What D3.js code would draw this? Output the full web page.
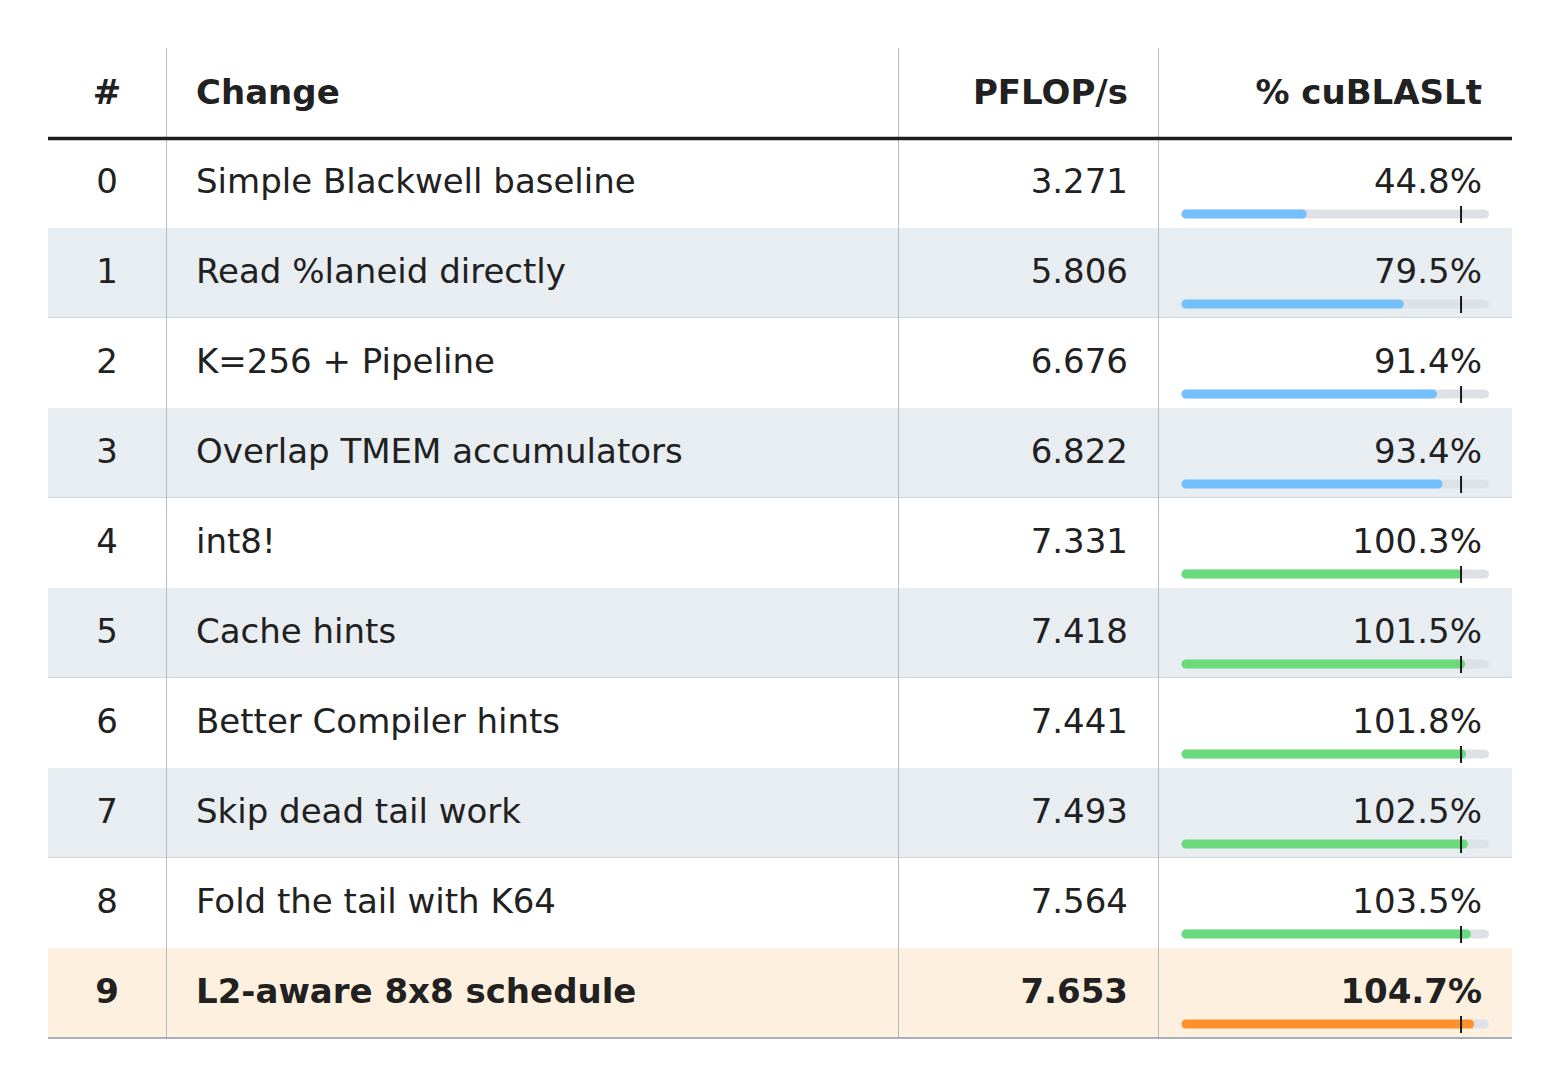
<!DOCTYPE html>
<html>
<head>
<meta charset="utf-8">
<script src="https://cdn.jsdelivr.net/npm/d3@7"></script>
<style>
  body { margin: 0; background: #fff; }
  svg text { font-family: "DejaVu Sans", sans-serif; fill: #212121; }
</style>
</head>
<body>
<svg id="main" width="1560" height="1086"></svg>
<script>
// table data
var steps = [0, 1, 2, 3, 4, 5, 6, 7, 8, 9];
var changes = [
  "Simple Blackwell baseline",
  "Read %laneid directly",
  "K=256 + Pipeline",
  "Overlap TMEM accumulators",
  "int8!",
  "Cache hints",
  "Better Compiler hints",
  "Skip dead tail work",
  "Fold the tail with K64",
  "L2-aware 8x8 schedule"
];
var pflops = [3.271, 5.806, 6.676, 6.822, 7.331, 7.418, 7.441, 7.493, 7.564, 7.653];
var pctCublas = [44.8, 79.5, 91.4, 93.4, 100.3, 101.5, 101.8, 102.5, 103.5, 104.7];
var headers = ["#", "Change", "PFLOP/s", "% cuBLASLt"];

var svg = d3.select("#main");

// layout (note: "top" is taken by window.top, so tableTop)
var tableLeft = 48, tableRight = 1512, tableTop = 48, headH = 90, rowH = 90;
var colEdges = [48, 166, 898, 1158, 1512];
var pad = 30;
var fontSize = "34px";
var best = steps.length - 1;

var y = d3.scaleBand()
  .domain(steps)
  .range([tableTop + headH, tableTop + headH + rowH * steps.length])
  .paddingInner(0).paddingOuter(0);

// bar scale, 100% = cuBLASLt marker
var x = d3.scaleLinear().domain([0, 110]).range([1181.5, 1489]);

function barColor(i) {
  if (i === best) return "#ff922b";
  return pctCublas[i] >= 100 ? "#69db7c" : "#74c0fc";
}

var rows = svg.append("g").attr("class", "rows")
  .selectAll("g")
  .data(steps)
  .enter()
  .append("g")
  .attr("transform", function(d) { return "translate(0," + y(d) + ")"; });

// row backgrounds
rows.append("rect")
  .attr("x", tableLeft)
  .attr("width", tableRight - tableLeft)
  .attr("height", y.bandwidth())
  .attr("fill", function(d, i) {
    if (i === best) return "#fef0df";
    return i % 2 === 1 ? "#e8edf1" : "#ffffff";
  });

// thin separators under shaded rows
rows.filter(function(d, i) { return i % 2 === 1 && i !== best; })
  .append("line")
  .attr("x1", tableLeft).attr("x2", tableRight)
  .attr("y1", y.bandwidth()).attr("y2", y.bandwidth())
  .attr("stroke", "#b4bcc6").attr("stroke-width", 1);

// vertical grid lines
svg.append("g")
  .selectAll("line")
  .data(colEdges.slice(1, 4))
  .enter()
  .append("line")
  .attr("x1", function(d) { return d + 0.5; })
  .attr("x2", function(d) { return d + 0.5; })
  .attr("y1", tableTop)
  .attr("y2", y(best) + rowH)
  .attr("stroke", "#b4bcc6")
  .attr("stroke-width", 1);

// header
var headX = [(colEdges[0] + colEdges[1]) / 2, colEdges[1] + pad, colEdges[3] - pad, colEdges[4] - pad];
var headAnchor = ["middle", "start", "end", "end"];
svg.append("g")
  .selectAll("text")
  .data(headers)
  .enter()
  .append("text")
  .attr("x", function(d, i) { return headX[i]; })
  .attr("y", tableTop + 56)
  .attr("text-anchor", function(d, i) { return headAnchor[i]; })
  .style("font-size", fontSize)
  .style("font-weight", "bold")
  .text(function(d) { return d; });

svg.append("line")
  .attr("x1", tableLeft).attr("x2", tableRight)
  .attr("y1", tableTop + headH + 0.5).attr("y2", tableTop + headH + 0.5)
  .attr("stroke", "#1f1f1f").attr("stroke-width", 3.5);

// cells
function cell(sel, xpos, anchor, fmt) {
  sel.append("text")
    .attr("x", xpos)
    .attr("y", 55)
    .attr("text-anchor", anchor)
    .style("font-size", fontSize)
    .style("font-weight", function(d, i) { return i === best ? "bold" : "normal"; })
    .text(fmt);
}
cell(rows, headX[0], "middle", function(d) { return d; });
cell(rows, headX[1], "start", function(d, i) { return changes[i]; });
cell(rows, headX[2], "end", function(d, i) { return pflops[i].toFixed(3); });
cell(rows, headX[3], "end", function(d, i) { return pctCublas[i].toFixed(1) + "%"; });

// progress bars
var barH = 9, barY = 76 - barH / 2;
rows.append("rect")
  .attr("x", x(0))
  .attr("y", barY)
  .attr("width", x(110) - x(0))
  .attr("height", barH)
  .attr("rx", barH / 2)
  .attr("fill", "#dee2e6");

rows.append("rect")
  .attr("x", x(0))
  .attr("y", barY)
  .attr("width", function(d, i) { return x(pctCublas[i]) - x(0); })
  .attr("height", barH)
  .attr("rx", barH / 2)
  .attr("fill", function(d, i) { return barColor(i); });

// 100% marker
rows.append("line")
  .attr("x1", x(100)).attr("x2", x(100))
  .attr("y1", 68).attr("y2", 85)
  .attr("stroke", "#1a1a1a")
  .attr("stroke-width", 2);

// bottom rule
svg.append("line")
  .attr("x1", tableLeft).attr("x2", tableRight)
  .attr("y1", y(best) + rowH).attr("y2", y(best) + rowH)
  .attr("stroke", "#a9b0bb").attr("stroke-width", 2);
</script>
</body>
</html>
